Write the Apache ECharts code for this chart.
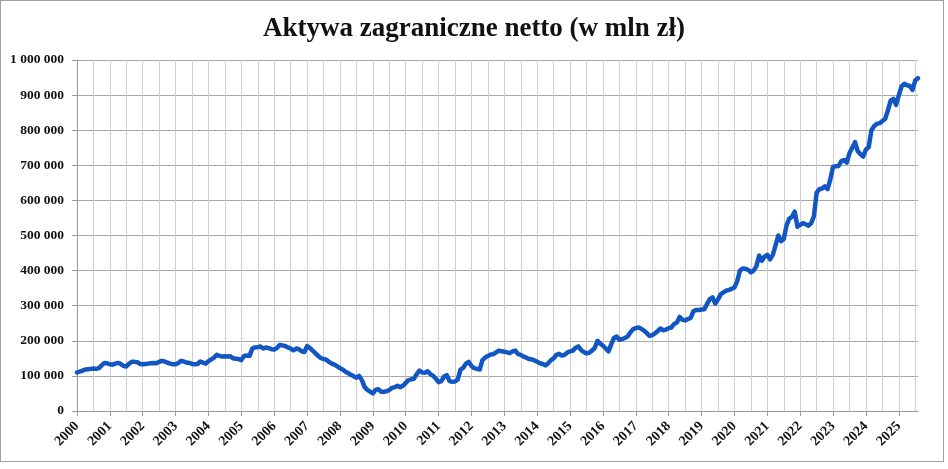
<!DOCTYPE html>
<html>
<head>
<meta charset="utf-8">
<script src="https://cdn.jsdelivr.net/npm/echarts@6/dist/echarts.min.js"></script>
<style>
  html, body { margin: 0; padding: 0; background: #fff; }
  #frame { position: absolute; left: 0; top: 0; width: 942px; height: 460px; border: 1px solid #a0a0a0; }
  #chart { position: absolute; left: 0; top: 0; width: 948px; height: 469px; }
</style>
</head>
<body>
<div id="frame"></div>
<div id="chart"></div>
<script>
// monthly values, Jan 2000 - Aug 2025 (thousands PLN)
var v2000 = [110, 112, 115, 118, 119, 120, 121, 120, 122, 130, 137, 136];
var v2001 = [133, 132, 135, 137, 134, 128, 127, 135, 140, 140, 139, 134];
var v2002 = [133, 134, 135, 136, 137, 136, 140, 143, 141, 138, 135, 133];
var v2003 = [133, 137, 143, 141, 138, 137, 134, 133, 134, 141, 138, 135];
var v2004 = [142, 147, 152, 160, 157, 155, 156, 155, 156, 150, 149, 148];
var v2005 = [145, 157, 158, 157, 178, 181, 182, 184, 178, 181, 179, 176];
var v2006 = [175, 180, 188, 187, 185, 181, 178, 173, 178, 176, 170, 168];
var v2007 = [185, 180, 172, 165, 157, 151, 148, 146, 140, 135, 132, 127];
var v2008 = [122, 118, 112, 108, 103, 99, 95, 100, 88, 68, 60, 55];
var v2009 = [50, 60, 62, 55, 55, 56, 60, 66, 68, 72, 68, 72];
var v2010 = [80, 88, 90, 92, 105, 115, 110, 109, 113, 105, 100, 92];
var v2011 = [82, 85, 98, 102, 85, 83, 84, 90, 118, 123, 135, 140];
var v2012 = [128, 122, 120, 118, 145, 152, 157, 161, 162, 167, 172, 170];
var v2013 = [169, 167, 165, 170, 172, 162, 160, 155, 152, 148, 147, 144];
var v2014 = [140, 136, 134, 130, 136, 145, 150, 160, 163, 158, 160, 167];
var v2015 = [170, 172, 180, 184, 174, 168, 164, 166, 172, 180, 200, 192];
var v2016 = [186, 178, 170, 190, 208, 212, 203, 205, 208, 212, 224, 233];
var v2017 = [236, 238, 234, 229, 222, 214, 216, 221, 228, 235, 230, 232];
var v2018 = [236, 238, 248, 252, 268, 260, 258, 262, 265, 284, 288, 288];
var v2019 = [289, 290, 305, 319, 324, 306, 318, 333, 338, 343, 345, 348];
var v2020 = [352, 370, 400, 406, 405, 402, 395, 400, 412, 443, 428, 440];
var v2021 = [445, 432, 445, 472, 500, 484, 490, 528, 548, 553, 568, 525];
var v2022 = [530, 535, 532, 528, 535, 555, 622, 632, 634, 640, 632, 660];
var v2023 = [696, 697, 698, 712, 715, 708, 735, 750, 766, 740, 732, 725];
var v2024 = [745, 752, 800, 812, 818, 820, 826, 832, 856, 884, 889, 872];
var v2025 = [900, 925, 932, 928, 926, 915, 942, 948];

var yearly = [v2000, v2001, v2002, v2003, v2004, v2005, v2006, v2007, v2008, v2009,
  v2010, v2011, v2012, v2013, v2014, v2015, v2016, v2017, v2018, v2019,
  v2020, v2021, v2022, v2023, v2024, v2025];

var months = [];
var values = [];
for (var i = 0; i < yearly.length; i++) {
  for (var j = 0; j < yearly[i].length; j++) {
    months.push((2000 + i) + '-' + (j < 9 ? '0' : '') + (j + 1));
    values.push(yearly[i][j] * 1000);
  }
}

var yTicks = [0, 100000, 200000, 300000, 400000, 500000, 600000, 700000, 800000, 900000, 1000000];

function fmtSpace(v) {
  return String(v).replace(/\B(?=(\d{3})+(?!\d))/g, ' ');
}

var chart = echarts.init(document.getElementById('chart'));
var option = {
  animation: false,
  backgroundColor: 'transparent',
  title: {
    text: 'Aktywa zagraniczne netto (w mln zł)',
    left: 'center',
    top: 11,
    textStyle: {
      fontFamily: 'Liberation Serif',
      fontWeight: 'bold',
      fontSize: 27,
      color: '#111'
    }
  },
  grid: { left: 77, right: 30, top: 60, bottom: 58 },
  xAxis: {
    type: 'category',
    data: months,
    boundaryGap: false,
    axisLine: { lineStyle: { color: '#999', width: 1 } },
    axisTick: { show: true, interval: 11, length: 5, lineStyle: { color: '#999' } },
    axisLabel: {
      interval: 11,
      rotate: 45,
      margin: 13,
      fontFamily: 'Liberation Serif',
      fontWeight: 'bold',
      fontSize: 14,
      color: '#111',
      formatter: function (v) { return v.slice(0, 4); }
    },
    splitLine: { show: true, interval: 5, lineStyle: { color: '#cfcfcf', width: 1 } }
  },
  yAxis: {
    type: 'value',
    min: yTicks[0],
    max: yTicks[yTicks.length - 1],
    interval: 100000,
    axisLine: { show: true, lineStyle: { color: '#999', width: 1 } },
    axisTick: { show: true, length: 5, lineStyle: { color: '#999' } },
    axisLabel: {
      margin: 13,
      fontFamily: 'Liberation Serif',
      fontWeight: 'bold',
      fontSize: 13.5,
      color: '#111',
      formatter: fmtSpace
    },
    splitLine: { show: true, lineStyle: { color: '#a8a8a8', width: 1 } }
  },
  series: [{
    type: 'line',
    data: values,
    showSymbol: false,
    lineStyle: { color: '#1256c4', width: 4.5, join: 'round', cap: 'round' }
  }]
};
chart.setOption(option);
</script>
</body>
</html>
